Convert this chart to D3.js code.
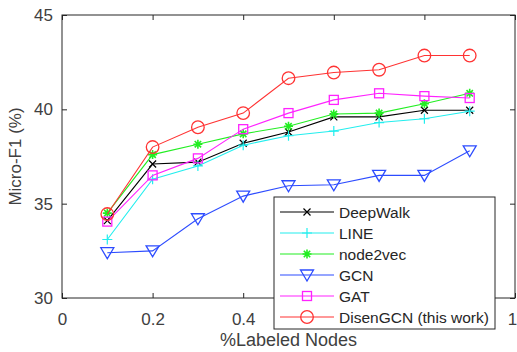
<!DOCTYPE html>
<html>
<head>
<meta charset="utf-8">
<script src="https://cdn.jsdelivr.net/npm/d3@7"></script>
<style>
  body { margin: 0; background: #fff; }
  text { font-family: "Liberation Sans", Arial, sans-serif; }
</style>
</head>
<body>
<svg id="chart" width="517" height="352"></svg>
<script>
// label ratios on the x axis
const ratios = [0.1, 0.2, 0.3, 0.4, 0.5, 0.6, 0.7, 0.8, 0.9];

const methods = ["DeepWalk", "LINE", "node2vec", "GCN", "GAT", "DisenGCN (this work)"];

const deepwalk = [34.1, 37.1, 37.2, 38.2, 38.8, 39.6, 39.6, 39.95, 39.95];
const line = [33.1, 36.3, 37.0, 38.1, 38.6, 38.85, 39.3, 39.5, 39.9];
const node2vec = [34.5, 37.6, 38.15, 38.7, 39.1, 39.75, 39.8, 40.3, 40.85];
const gcn = [32.4, 32.5, 34.2, 35.4, 35.95, 36.0, 36.5, 36.5, 37.8];
const gat = [34.05, 36.5, 37.4, 38.95, 39.8, 40.5, 40.85, 40.7, 40.6];
const disengcn = [34.45, 38.0, 39.05, 39.8, 41.65, 41.95, 42.1, 42.85, 42.85];

const xTicks = [0, 0.2, 0.4, 0.6, 0.8, 1];
const xTickLabels = ["0", "0.2", "0.4", "", "", "1"]; // 0.6 and 0.8 sit under the legend
const yTicks = [30, 35, 40, 45];

const seriesValues = [deepwalk, line, node2vec, gcn, gat, disengcn];
const colors = ["#000000", "#22eeee", "#22ee22", "#2d4cff", "#ff22ff", "#ff3333"];
const markers = ["x", "plus", "star", "tri", "square", "circle"];

const svg = d3.select("#chart");
const margin = { top: 15, right: 2, bottom: 54, left: 62 };
const W = 517, H = 352;

const x = d3.scaleLinear().domain([0, 1]).range([margin.left, W - margin.right]);
const y = d3.scaleLinear().domain([30, 45]).range([H - margin.bottom, margin.top]);

const axisColor = "#262626";
const textColor = "#404040";

// axes (box style with inner ticks)
function styleAxis(g) {
    g.select(".domain").remove();
    g.selectAll(".tick line").attr("stroke", axisColor).attr("stroke-width", 1);
    g.selectAll(".tick text").attr("fill", textColor)
        .style("font-size", "17px").style("font-family", '"Liberation Sans", Arial, sans-serif');
}

svg.append("g")
    .attr("transform", `translate(0,${y(30)})`)
    .call(d3.axisBottom(x).tickValues(xTicks).tickSizeInner(-5).tickSizeOuter(0).tickPadding(15)
        .tickFormat((d, i) => xTickLabels[i]))
    .call(styleAxis)
    .call(g => g.selectAll(".tick text").filter(d => d === 1).attr("dx", -3));

svg.append("g")
    .attr("transform", `translate(0,${y(45)})`)
    .call(d3.axisTop(x).tickValues(xTicks).tickSizeInner(-5).tickSizeOuter(0).tickFormat(""))
    .call(styleAxis);

svg.append("g")
    .attr("transform", `translate(${x(0)},0)`)
    .call(d3.axisLeft(y).tickValues(yTicks).tickSizeInner(-5).tickSizeOuter(0).tickPadding(9))
    .call(styleAxis);

svg.append("g")
    .attr("transform", `translate(${x(1)},0)`)
    .call(d3.axisRight(y).tickValues(yTicks).tickSizeInner(-5).tickSizeOuter(0).tickFormat(""))
    .call(styleAxis);

svg.append("rect")
    .attr("x", x(0)).attr("y", y(45))
    .attr("width", x(1) - x(0)).attr("height", y(30) - y(45))
    .attr("fill", "none").attr("stroke", axisColor).attr("stroke-width", 1);

// axis labels
svg.append("text")
    .attr("x", (x(0) + x(1)) / 2).attr("y", 346)
    .attr("text-anchor", "middle").attr("fill", textColor)
    .style("font-size", "18px").text("%Labeled Nodes");

svg.append("text")
    .attr("transform", `translate(21,${(y(30) + y(45)) / 2}) rotate(-90)`)
    .attr("text-anchor", "middle").attr("fill", textColor)
    .style("font-size", "17px").text("Micro-F1 (%)");

function drawMarker(g, type, color) {
    if (type === "x") {
        g.append("path").attr("d", "M-3.5,-3.5L3.5,3.5M-3.5,3.5L3.5,-3.5")
            .attr("stroke", color).attr("stroke-width", 1.2).attr("fill", "none");
    } else if (type === "plus") {
        g.append("path").attr("d", "M-5,0L5,0M0,-5L0,5")
            .attr("stroke", color).attr("stroke-width", 1.2).attr("fill", "none");
    } else if (type === "star") {
        g.append("path").attr("d", "M-4.5,0L4.5,0M0,-4.5L0,4.5M-3.2,-3.2L3.2,3.2M-3.2,3.2L3.2,-3.2")
            .attr("stroke", color).attr("stroke-width", 1.6).attr("fill", "none");
    } else if (type === "tri") {
        g.append("path").attr("d", "M-6.5,-5L6.5,-5L0,6Z")
            .attr("stroke", color).attr("stroke-width", 1.3).attr("fill", "none");
    } else if (type === "square") {
        g.append("rect").attr("x", -4.5).attr("y", -4.5).attr("width", 9).attr("height", 9)
            .attr("stroke", color).attr("stroke-width", 1.3).attr("fill", "none");
    } else if (type === "circle") {
        g.append("circle").attr("r", 6.3)
            .attr("stroke", color).attr("stroke-width", 1.3).attr("fill", "none");
    }
}

const lineGen = d3.line().x((d, i) => x(ratios[i])).y(d => y(d));

seriesValues.forEach((vals, k) => {
    svg.append("path")
        .datum(vals)
        .attr("d", lineGen)
        .attr("fill", "none")
        .attr("stroke", colors[k])
        .attr("stroke-width", 1.1);
    vals.forEach((v, i) => {
        const g = svg.append("g").attr("transform", `translate(${x(ratios[i])},${y(v)})`);
        drawMarker(g, markers[k], colors[k]);
    });
});

// legend
const lg = svg.append("g").attr("transform", "translate(274,197)");
lg.append("rect")
    .attr("width", 221).attr("height", 132)
    .attr("fill", "#fff").attr("stroke", axisColor).attr("stroke-width", 1);

methods.forEach((name, k) => {
    const cy = 15 + k * 21;
    lg.append("line").attr("x1", 6).attr("x2", 60).attr("y1", cy).attr("y2", cy)
        .attr("stroke", colors[k]).attr("stroke-width", 1.1);
    drawMarker(lg.append("g").attr("transform", `translate(33,${cy})`), markers[k], colors[k]);
    lg.append("text").attr("x", 65).attr("y", cy + 5.5)
        .attr("fill", "#262626").style("font-size", "15.5px").text(name);
});
</script>
</body>
</html>
